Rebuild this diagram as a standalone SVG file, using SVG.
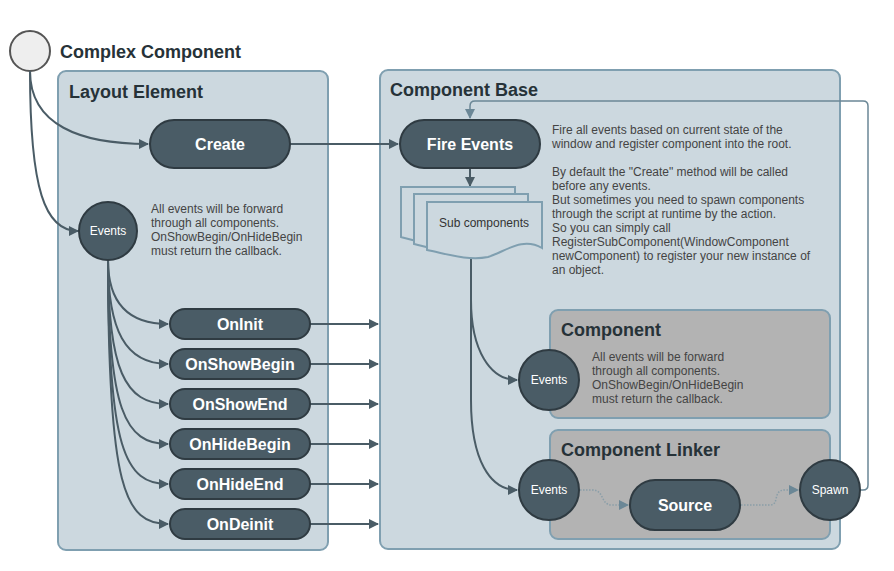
<svg xmlns="http://www.w3.org/2000/svg" width="894" height="571" viewBox="0 0 894 571">
<defs>
<style>
.title{font-family:"Liberation Sans",Arial,sans-serif;font-weight:bold;font-size:18px;fill:#263238}
.cont{fill:#ccd8df;stroke:#7f9fb0;stroke-width:2}
.sub{fill:#b3b3b3;stroke:#7f9fb0;stroke-width:2}
.node{fill:#4a5c66;stroke:#2f3b42;stroke-width:2}
.nt{font-family:"Liberation Sans",Arial,sans-serif;font-weight:bold;font-size:16px;fill:#fff;text-anchor:middle}
.ct{font-family:"Liberation Sans",Arial,sans-serif;font-size:12px;fill:#fff;text-anchor:middle}
.note{font-family:"Liberation Sans",Arial,sans-serif;font-size:12px;fill:#444}
.line{fill:none;stroke:#4a5c66;stroke-width:2}
.dot{fill:none;stroke:#8a9ea8;stroke-width:1.5;stroke-dasharray:1.5 1.5}
.loop{fill:none;stroke:#6b8796;stroke-width:1.5}
.doc{fill:#ccd8df;stroke:#7f9fb0;stroke-width:2}
</style>
<marker id="ah" markerWidth="10" markerHeight="10" refX="9" refY="5" orient="auto" markerUnits="userSpaceOnUse">
<path d="M0,0 L10,5 L0,10 z" fill="#4a5c66"/>
</marker>
<marker id="ahl" markerWidth="10" markerHeight="10" refX="9" refY="5" orient="auto" markerUnits="userSpaceOnUse">
<path d="M0,0 L10,5 L0,10 z" fill="#6b8796"/>
</marker>
</defs>
<rect width="894" height="571" fill="#fff"/>

<g id="layout-element">
<rect class="cont" x="58" y="71" width="270" height="479" rx="8"/>
<text class="title" x="69" y="98">Layout Element</text>
</g>
<g id="component-base">
<rect class="cont" x="380" y="70" width="460" height="479" rx="8"/>
<text class="title" x="390" y="96">Component Base</text>
</g>
<g id="component">
<rect class="sub" x="550" y="310" width="280" height="108" rx="8"/>
<text class="title" x="561" y="336">Component</text>
<text class="note"><tspan x="592" y="361">All events will be forward</tspan><tspan x="592" y="375">through all components.</tspan><tspan x="592" y="389">OnShowBegin/OnHideBegin</tspan><tspan x="592" y="403">must return the callback.</tspan></text>
</g>
<g id="component-linker">
<rect class="sub" x="550" y="430" width="280" height="109" rx="8"/>
<text class="title" x="561" y="456">Component Linker</text>
</g>

<g id="start">
<circle cx="30" cy="51" r="20" fill="#eeeeee" stroke="#555" stroke-width="2"/>
<text class="title" x="60" y="58">Complex Component</text>
</g>

<g id="connectors">
<path class="line" d="M30,71 C30,125 80,144 148,144" marker-end="url(#ah)"/>
<path class="line" d="M30,71 C30,190 45,231 78,231" marker-end="url(#ah)"/>
<path class="line" d="M290,144 L398,144" marker-end="url(#ah)"/>
<path class="line" d="M470,168 L470,186" marker-end="url(#ah)"/>
<path class="line" d="M108,260 C108,300 125,324 168,324" marker-end="url(#ah)"/>
<path class="line" d="M108,260 C108,330 125,364 168,364" marker-end="url(#ah)"/>
<path class="line" d="M108,260 C108,370 125,404 168,404" marker-end="url(#ah)"/>
<path class="line" d="M108,260 C108,410 125,444 168,444" marker-end="url(#ah)"/>
<path class="line" d="M108,260 C108,450 125,484 168,484" marker-end="url(#ah)"/>
<path class="line" d="M108,260 C108,490 125,524 168,524" marker-end="url(#ah)"/>
<path class="line" d="M310,324 L378,324" marker-end="url(#ah)"/>
<path class="line" d="M310,364 L378,364" marker-end="url(#ah)"/>
<path class="line" d="M310,404 L378,404" marker-end="url(#ah)"/>
<path class="line" d="M310,444 L378,444" marker-end="url(#ah)"/>
<path class="line" d="M310,484 L378,484" marker-end="url(#ah)"/>
<path class="line" d="M310,524 L378,524" marker-end="url(#ah)"/>
<path class="line" d="M471,258 L471,300 C471,350 490,380 517,380" marker-end="url(#ah)"/>
<path class="line" d="M471,258 L471,400 C471,460 490,490 517,490" marker-end="url(#ah)"/>
<path class="dot" d="M580,490 L592,490 C605,490 600,505 612,505 L628,505" marker-end="url(#ahl)"/>
<path class="dot" d="M741,505 L770,505 C780,505 772,490 785,490 L798,490" marker-end="url(#ahl)"/>
<path class="loop" d="M860,490 L863,490 Q868,490 868,485 L868,106 Q868,101 863,101 L475,101 Q470,101 470,106 L470,118" marker-end="url(#ahl)"/>
</g>

<g id="create">
<rect class="node" x="150" y="120" width="140" height="48" rx="24"/>
<text class="nt" x="220" y="150">Create</text>
</g>
<g id="events-left">
<circle class="node" cx="108" cy="231" r="29"/>
<text class="ct" x="108" y="235">Events</text>
<text class="note"><tspan x="151" y="213">All events will be forward</tspan><tspan x="151" y="227">through all components.</tspan><tspan x="151" y="241">OnShowBegin/OnHideBegin</tspan><tspan x="151" y="255">must return the callback.</tspan></text>
</g>
<g id="oninit"><rect class="node" x="170" y="309" width="140" height="30" rx="15"/><text class="nt" x="240" y="330">OnInit</text></g>
<g id="onshowbegin"><rect class="node" x="170" y="349" width="140" height="30" rx="15"/><text class="nt" x="240" y="370">OnShowBegin</text></g>
<g id="onshowend"><rect class="node" x="170" y="389" width="140" height="30" rx="15"/><text class="nt" x="240" y="410">OnShowEnd</text></g>
<g id="onhidebegin"><rect class="node" x="170" y="429" width="140" height="30" rx="15"/><text class="nt" x="240" y="450">OnHideBegin</text></g>
<g id="onhideend"><rect class="node" x="170" y="469" width="140" height="30" rx="15"/><text class="nt" x="240" y="490">OnHideEnd</text></g>
<g id="ondeinit"><rect class="node" x="170" y="509" width="140" height="30" rx="15"/><text class="nt" x="240" y="530">OnDeinit</text></g>

<g id="fire-events">
<rect class="node" x="400" y="120" width="140" height="48" rx="24"/>
<text class="nt" x="470" y="150">Fire Events</text>
<text class="note"><tspan x="552" y="134">Fire all events based on current state of the</tspan><tspan x="552" y="148">window and register component into the root.</tspan><tspan x="552" y="176">By default the "Create" method will be called</tspan><tspan x="552" y="190">before any events.</tspan><tspan x="552" y="204">But sometimes you need to spawn components</tspan><tspan x="552" y="218">through the script at runtime by the action.</tspan><tspan x="552" y="232">So you can simply call</tspan><tspan x="552" y="246">RegisterSubComponent(WindowComponent</tspan><tspan x="552" y="260">newComponent) to register your new instance of</tspan><tspan x="552" y="274">an object.</tspan></text>
</g>

<g id="sub-components">
<path class="doc" d="M401,187 L515,187 L515,232 C495,226 485,242 470,246 C450,250 420,242 401,237 Z"/>
<path class="doc" d="M414,194 L528,194 L528,239 C508,233 498,249 484,253 C464,257 434,249 414,244 Z"/>
<path class="doc" d="M427,202 L542,202 L542,248 C522,236 505,252 488,257 C468,261 447,254 427,250 Z"/>
<text class="note" x="484" y="227" text-anchor="middle" style="fill:#333">Sub components</text>
</g>

<g id="events-component">
<circle class="node" cx="549" cy="380" r="30"/>
<text class="ct" x="549" y="384">Events</text>
</g>
<g id="events-linker">
<circle class="node" cx="549" cy="490" r="30"/>
<text class="ct" x="549" y="494">Events</text>
</g>
<g id="source">
<rect class="node" x="630" y="480" width="110" height="50" rx="25"/>
<text class="nt" x="685" y="511">Source</text>
</g>
<g id="spawn">
<circle class="node" cx="830" cy="490" r="30"/>
<text class="ct" x="830" y="494">Spawn</text>
</g>
</svg>
